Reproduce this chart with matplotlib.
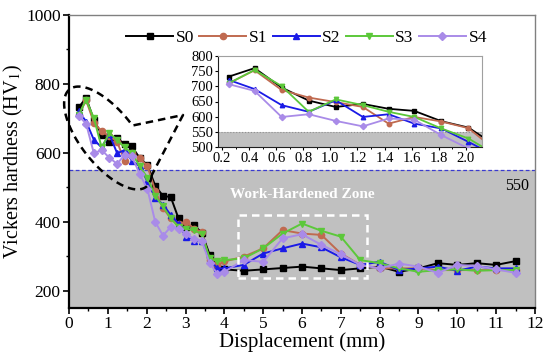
import numpy as np
import matplotlib
matplotlib.use("Agg")
import matplotlib.pyplot as plt
import matplotlib.transforms as mtransforms
from matplotlib.lines import Line2D

plt.rcParams['font.family'] = ['Liberation Serif', 'DejaVu Serif']
plt.rcParams['mathtext.fontset'] = 'stix'

# ---- data ----
x_pos = [0.25, 0.44, 0.64, 0.84, 1.04, 1.24, 1.43, 1.62, 1.82, 2.02, 2.22, 2.42, 2.62,
         2.82, 3.02, 3.22, 3.42, 3.62, 3.82,
         4.0, 4.5, 5.0, 5.5, 6.0, 6.5, 7.0, 7.5, 8.0, 8.5, 9.0, 9.5, 10.0, 10.5, 11.0, 11.5]

s0 = [732, 760, 696, 653, 632, 642, 626, 619, 585, 564, 505, 475, 472, 410, 385, 390, 368, 305, 270,
      262, 258, 262, 266, 270, 265, 260, 265, 270, 255, 265, 280, 275, 280, 275, 286]
s1 = [710, 753, 688, 663, 648, 632, 577, 599, 584, 562, 490, 440, 410, 395, 400, 380, 370, 290, 275,
      285, 299, 323, 376, 366, 362, 308, 275, 265, 265, 265, 260, 260, 260, 260, 260]
s2 = [721, 691, 638, 616, 654, 599, 608, 577, 561, 517, 470, 450, 420, 395, 355, 345, 345, 290, 265,
      265, 275, 308, 323, 337, 326, 297, 275, 284, 260, 265, 270, 258, 270, 265, 265]
s3 = [710, 754, 701, 616, 657, 638, 616, 599, 561, 528, 475, 445, 410, 385, 380, 375, 365, 295, 285,
      289, 294, 323, 366, 395, 374, 357, 289, 280, 265, 255, 260, 262, 258, 260, 260]
s4 = [707, 685, 599, 608, 586, 568, 594, 590, 539, 495, 400, 360, 385, 380, 365, 350, 345, 280, 250,
      255, 289, 284, 352, 364, 333, 306, 275, 265, 279, 270, 252, 275, 272, 262, 252]

series_names = ['S0', 'S1', 'S2', 'S3', 'S4']
series_vals = [s0, s1, s2, s3, s4]
colors = ['#000000', '#c06a50', '#1a1ae6', '#5cc83a', '#a98be8']
markers = ['s', 'o', '^', 'v', 'D']
msizes = [4, 4.5, 4.5, 4.5, 3.8]

threshold = 550
x_ticks = list(range(0, 13))
y_ticks = [200, 400, 600, 800, 1000]
inset_xticks = [0.2, 0.4, 0.6, 0.8, 1.0, 1.2, 1.4, 1.6, 1.8, 2.0]
inset_yticks = [500, 550, 600, 650, 700, 750, 800]
zone = (4.34, 7.67, 236, 420)

W, H = 550, 362
fig = plt.figure(figsize=(W / 100, H / 100), dpi=100)
ax = fig.add_axes([69 / W, 1 - 308 / H, (535 - 69) / W, (308 - 15) / H])

ax.set_xlim(0, 12)
ax.set_ylim(150, 1000)
ax.axhspan(150, threshold, color='#c0c0c0', zorder=0, lw=0)
ax.axhline(threshold, color='#3a3ad0', lw=0.9, ls=(0, (3, 2)), zorder=1)

for name, vals, c, m, ms in zip(series_names, series_vals, colors, markers, msizes):
    ax.plot(x_pos, vals, color=c, marker=m, ms=ms, lw=1.4, label=name, zorder=3)

ax.set_xticks(x_ticks)
ax.set_yticks(y_ticks)
ax.set_xticks(np.arange(0.5, 12, 1.0), minor=True)
ax.set_yticks([300, 500, 700, 900], minor=True)
ax.tick_params(axis='both', which='major', direction='out', length=4, width=1.2, labelsize=12.5, pad=2)
ax.tick_params(axis='both', which='minor', direction='out', length=2.5, width=1.0)
for s in ['left', 'bottom']:
    ax.spines[s].set_linewidth(1.6)
for s in ['top', 'right']:
    ax.spines[s].set_color('#808080')
    ax.spines[s].set_linewidth(1.0)

ax.set_xlabel('Displacement (mm)', fontsize=15, labelpad=0)
ax.set_ylabel('Vickers hardness (HV$_1$)', fontsize=14.5, labelpad=1)

ax.text(11.55, 505, '550', fontsize=11.5, ha='center', va='center')

# work-hardened zone box
ax.add_patch(plt.Rectangle((zone[0], zone[2]), zone[1] - zone[0], zone[3] - zone[2],
                           fill=False, ec='white', lw=1.8, ls=(0, (3, 2)), zorder=4))
ax.text((zone[0] + zone[1]) / 2, 478, 'Work-Hardened Zone', color='white', fontsize=11,
        fontweight='bold', ha='center', va='center', zorder=4)

leg = ax.legend(ncol=5, loc='upper center', bbox_to_anchor=(0.51, 0.985), frameon=False,
                fontsize=12.5, handlelength=2.7, columnspacing=0.3, handletextpad=0.15,
                borderaxespad=0.2)

# callout ellipse with tail (pixel coords, y down)
px = mtransforms.Affine2D().scale(1 / W, -1 / H).translate(0, 1) + fig.transFigure
cx, cy, a, b = 108, 138, 62, 27
u = np.array([0.62, 0.785]); u = u / np.linalg.norm(u)
v = np.array([-u[1], u[0]])
t = np.linspace(np.deg2rad(-25), np.deg2rad(-25) + np.deg2rad(300), 200)
pts = np.array([cx, cy]) + np.outer(a * np.cos(t), u) + np.outer(b * np.sin(t), v)
tip = np.array([183, 115])
path = np.vstack([pts, tip, pts[0]])
fig.add_artist(Line2D(path[:, 0], path[:, 1], transform=px, color='black', lw=1.8,
                      ls=(0, (3, 2))))

# inset
axin = fig.add_axes([218 / W, 1 - 147 / H, (482 - 218) / W, (147 - 56) / H])
axin.set_xlim(0.17, 2.12)
axin.set_ylim(500, 800)
axin.axhspan(500, threshold, color='#c0c0c0', lw=0, zorder=0)
axin.axhline(threshold, color='#909090', lw=0.8, ls=':', zorder=1)
for name, vals, c, m, ms in zip(series_names, series_vals, colors, markers, msizes):
    axin.plot(x_pos, vals, color=c, marker=m, ms=3.2, lw=1.3, zorder=3)
axin.set_xticks(inset_xticks)
axin.set_yticks(inset_yticks)
axin.set_xticks(np.arange(0.3, 2.1, 0.2), minor=True)
axin.tick_params(axis='both', which='major', direction='out', length=2.5, width=0.8,
                 labelsize=10.5, pad=1)
axin.tick_params(axis='both', which='minor', direction='out', length=1.5, width=0.7)
for s in axin.spines.values():
    s.set_color('#a0a0a0')
    s.set_linewidth(0.8)
axin.spines['left'].set_color('#202020')
axin.spines['bottom'].set_color('#202020')

fig.savefig('out.png', dpi=100)
